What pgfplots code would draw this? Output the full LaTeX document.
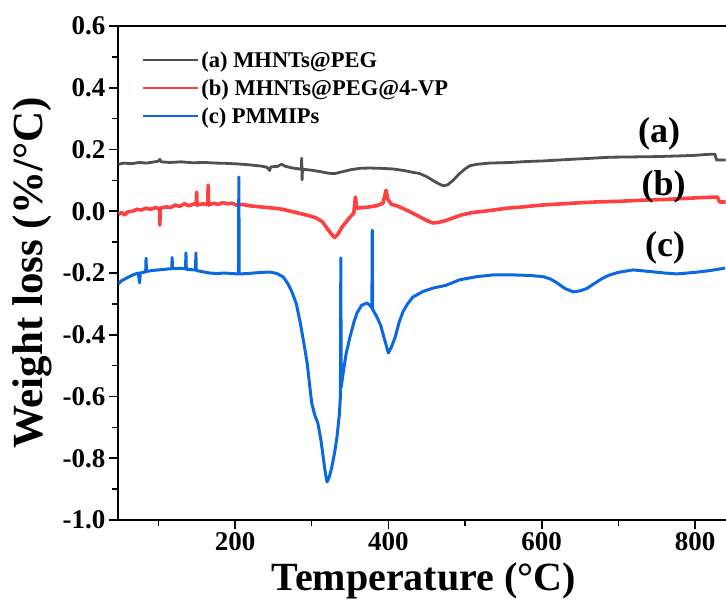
\documentclass[border=0pt]{standalone}
\usepackage{fontspec}
\setmainfont{Liberation Serif}
\usepackage{pgfplots}
\pgfplotsset{compat=1.18}

\definecolor{cgray}{RGB}{80,80,80}
\definecolor{cred}{RGB}{255,64,64}
\definecolor{cblue}{RGB}{10,104,224}

\begin{document}
\begin{tikzpicture}
\useasboundingbox (-118pt,-85pt) rectangle (608pt,520pt);
\begin{axis}[
    at={(0pt,0pt)}, anchor=south west,
    scale only axis,
    width=615.4pt, height=494pt,
    xmin=47.4, xmax=850,
    ymin=-1.0, ymax=0.6,
    xtick={200,400,600,800},
    minor xtick={100,300,500,700},
    ytick={-1.0,-0.8,...,0.61},
    minor ytick={-0.9,-0.7,-0.5,-0.3,-0.1,0.1,0.3,0.5},
    tick pos=left,
    tick align=outside,
    major tick length=9pt,
    minor tick length=6pt,
    every tick/.style={black, line width=1.6pt},
    axis line style={line width=1.8pt},
    /pgf/number format/assume math mode=true,
    yticklabel style={/pgf/number format/.cd, fixed, fixed zerofill, precision=1},
    ticklabel style={font=\bfseries\fontsize{27}{27}\selectfont},
    xlabel={Temperature (°C)},
    ylabel={Weight loss (\%/°C)},
    xlabel style={font=\bfseries\fontsize{40}{40}\selectfont,
        at={(axis description cs:0.497,-0.142)}, anchor=base},
    ylabel style={font=\bfseries\fontsize{43}{43}\selectfont,
        at={(axis description cs:-0.14,0.5)}, anchor=center},
    legend cell align=left,
    legend style={draw=none, fill=none, font=\bfseries\fontsize{22.5}{22.5}\selectfont,
        at={(axis description cs:0.039,0.953)}, anchor=north west,
        row sep=7pt, inner sep=0pt},
    legend image code/.code={\draw[#1, line width=2.2pt] (0pt,0pt) -- (55pt,0pt);},
    every axis plot/.append style={line join=round},
]
% (a) MHNTs@PEG
\addplot[cgray, line width=2.8pt] coordinates {
(48,0.152)(55,0.156)(65,0.154)(75,0.158)(85,0.156)(95,0.16)(100,0.162)(102,0.168)(104,0.16)
(115,0.158)(130,0.16)(145,0.157)(160,0.158)(175,0.156)(190,0.155)(205,0.153)(220,0.15)
(235,0.146)(242,0.142)(245,0.132)(247,0.144)(255,0.145)(261,0.152)(265,0.146)(275,0.14)
(286.5,0.136)(287,0.172)(287.5,0.102)(288,0.136)(300,0.133)(312,0.128)(322,0.123)(330,0.122)
(340,0.128)(352,0.135)(363,0.139)(375,0.14)(390,0.139)(406,0.137)(420,0.132)(430,0.127)
(441,0.122)(450,0.112)(458,0.1)(465,0.09)(471,0.083)(477,0.085)(484,0.099)(492,0.12)
(500,0.137)(506,0.147)(515,0.152)(532,0.156)(560,0.158)(580,0.161)(602,0.163)(630,0.167)
(660,0.171)(689,0.175)(720,0.176)(750,0.177)(776,0.179)(800,0.181)(815,0.184)(826,0.185)
(828,0.166)(840,0.166)
};
\addlegendentry{(a) MHNTs@PEG}
% (b) MHNTs@PEG@4-VP
\addplot[cred, line width=3.6pt] coordinates {
(48,-0.01)(52,-0.004)(56,-0.012)(60,-0.002)(66,0.0)(72,0.006)(78,0.004)(84,0.01)(90,0.006)
(96,0.012)(101.5,0.008)(102,-0.045)(102.5,0.01)(110,0.014)(116,0.012)(122,0.02)(128,0.016)
(134,0.024)(140,0.018)(149.5,0.026)(150,0.062)(150.5,0.02)(158,0.024)(164.5,0.022)(165,0.085)
(165.5,0.02)(172,0.026)(178,0.022)(184,0.028)(190,0.024)(196,0.026)(202,0.02)(210,0.022)
(218,0.018)(226,0.016)(234,0.014)(242,0.012)(250,0.01)(258,0.008)(266,0.004)(276,-0.002)
(286,-0.008)(296,-0.014)(306,-0.022)(314,-0.034)(320,-0.055)(326,-0.075)(330,-0.085)
(334,-0.075)(340,-0.05)(348,-0.025)(355,-0.005)(357,0.046)(359,0.01)(367,0.012)(375,0.014)
(385,0.018)(393,0.026)(397,0.068)(399,0.04)(404,0.022)(411,0.018)(420,0.008)(430,-0.004)
(441,-0.018)(450,-0.03)(458,-0.038)(466,-0.036)(475,-0.03)(484,-0.022)(495,-0.012)
(510,-0.004)(525,0.0)(537,0.004)(555,0.01)(575,0.014)(600,0.02)(620,0.023)(646,0.027)
(670,0.03)(700,0.032)(732,0.036)(760,0.038)(790,0.042)(815,0.045)(829,0.046)(832,0.03)
(840,0.03)
};
\addlegendentry{(b) MHNTs@PEG@4-VP}
% (c) PMMIPs
\addplot[cblue, line width=3pt] coordinates {
(48,-0.235)(52,-0.225)(56,-0.22)(62,-0.212)(68,-0.205)(74,-0.2)(75.5,-0.232)(76.5,-0.2)
(82,-0.197)(83.5,-0.197)(84,-0.152)(84.5,-0.195)(92,-0.192)(100,-0.19)(108,-0.188)(117.5,-0.186)(118,-0.15)
(118.5,-0.186)(128,-0.185)(135.5,-0.186)(136,-0.135)(136.5,-0.188)(146,-0.19)(148.5,-0.19)(149,-0.135)
(149.5,-0.192)(158,-0.196)(167,-0.2)(176,-0.202)(186,-0.2)(196,-0.202)(204.5,-0.203)(205,0.111)
(205.5,-0.203)(215,-0.202)(225,-0.2)(235,-0.198)(246,-0.197)(255,-0.202)(263,-0.213)
(269,-0.235)(274,-0.26)(280,-0.3)(285,-0.36)(290,-0.43)(294,-0.49)(300,-0.621)(304,-0.66)
(308,-0.686)(312,-0.74)(315,-0.796)(318,-0.85)(320,-0.877)(323,-0.86)(326,-0.832)(330,-0.78)
(333,-0.731)(336,-0.66)(337.5,-0.6)(338,-0.151)(338.5,-0.57)(341,-0.524)(345,-0.46)(350,-0.407)
(355,-0.36)(359,-0.33)(365,-0.305)(372,-0.297)(376,-0.305)(378.5,-0.313)(379,-0.061)(379.5,-0.318)
(385,-0.342)(390,-0.37)(395,-0.415)(400,-0.459)(404,-0.44)(409,-0.407)(414,-0.36)(419,-0.326)
(425,-0.3)(432,-0.278)(445,-0.26)(458,-0.249)(475,-0.24)(493,-0.222)(515,-0.212)(537,-0.206)
(560,-0.206)(585,-0.208)(602,-0.212)(612,-0.22)(620,-0.232)(630,-0.25)(641,-0.261)(650,-0.258)
(659,-0.25)(670,-0.232)(680,-0.216)(689,-0.206)(700,-0.198)(719,-0.19)(740,-0.195)(760,-0.2)
(776,-0.203)(800,-0.198)(820,-0.192)(839,-0.184)
};
\addlegendentry{(c) PMMIPs}
\node[font=\bfseries\fontsize{36}{36}\selectfont] at (axis cs:753,0.25) {(a)};
\node[font=\bfseries\fontsize{36}{36}\selectfont] at (axis cs:759,0.08) {(b)};
\node[font=\bfseries\fontsize{36}{36}\selectfont] at (axis cs:761,-0.12) {(c)};
\end{axis}
\end{tikzpicture}
\end{document}
